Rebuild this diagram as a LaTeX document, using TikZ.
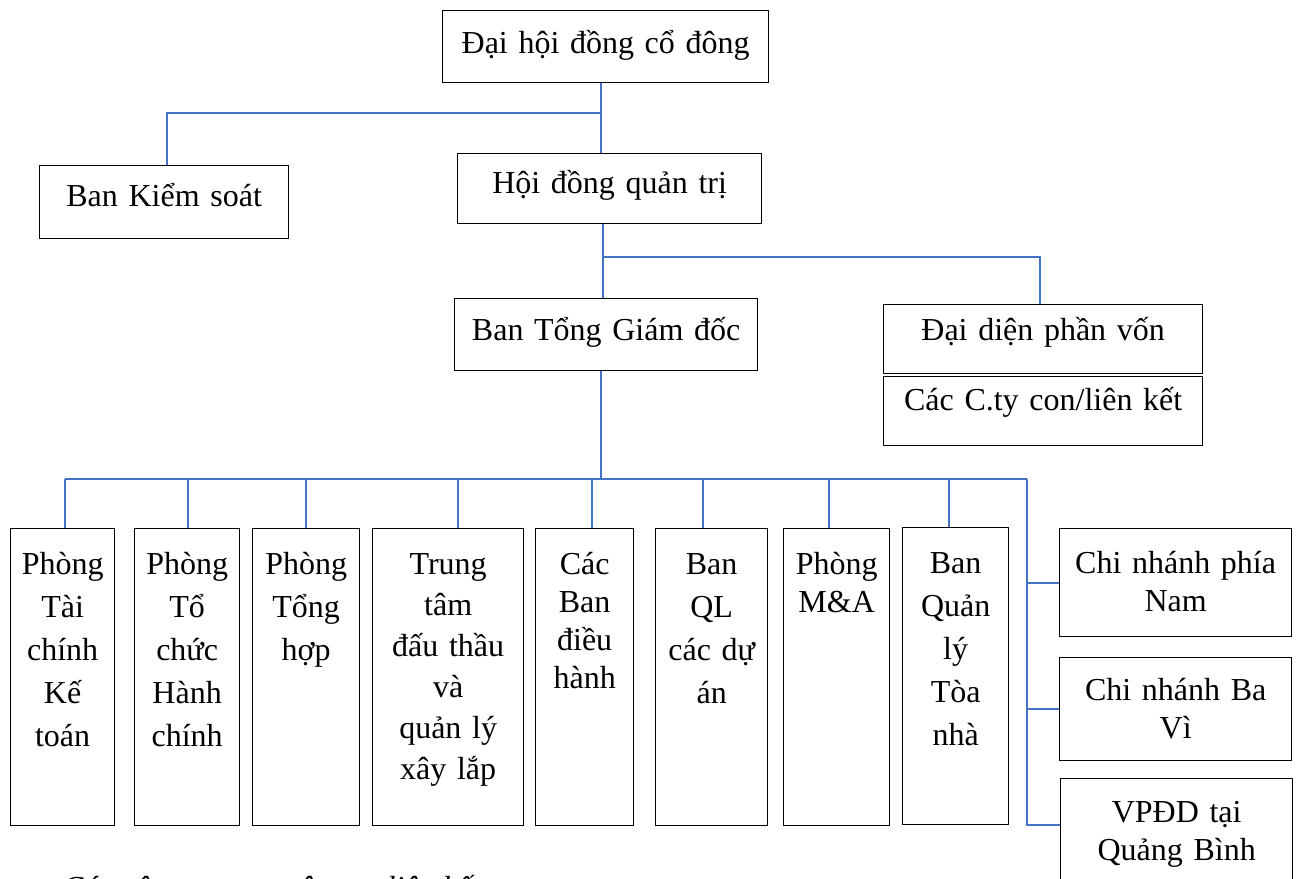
\documentclass[tikz,border=0pt]{standalone}
\usepackage{fontspec}
\setmainfont{Liberation Serif}
\usetikzlibrary{positioning,calc}
\definecolor{linkblue}{RGB}{68,114,196}
\tikzset{
  box/.style={draw, line width=1.3pt, anchor=north west, inner sep=0pt, align=center,
    font=\fontsize{32}{43}\selectfont},
  dept/.style={box, text height=46pt, text depth=251pt},
  tight/.style={font=\fontsize{32}{38}\selectfont},
  link/.style={draw=linkblue, line width=2pt}
}
\begin{document}
\begin{tikzpicture}[x=1pt, y=-1pt]
      \path[use as bounding box, fill=white] (0,0) rectangle (1298,878);

      \node[box, text width=326pt, text height=43pt, text depth=29pt] (dhdcd) at (442,10) {Đại hội đồng cổ đông};
      \node[box, text width=249pt, text height=41pt, text depth=32pt] (bks) at (39,165) {Ban Kiểm soát};
      \node[box, text width=304pt, text height=40pt, text depth=30pt] (hdqt) at (457,153) {Hội đồng quản trị};
      \node[box, text width=303pt, text height=42pt, text depth=30pt] (btgd) at (454,298) {Ban Tổng Giám đốc};
      \node[box, text width=319pt, text height=36pt, text depth=33pt] (ddpv) at (883,304) {Đại diện phần vốn};
      \node[box, text width=319pt, text height=34pt, text depth=35pt] (cty) at (883,376) {Các C.ty con/liên kết};

      \node[dept, text width=104pt] (ptckt) at (10,528) {Phòng\\Tài\\chính\\Kế\\toán};
      \node[dept, text width=105pt] (ptchc) at (134,528) {Phòng\\Tổ\\chức\\Hành\\chính};
      \node[dept, text width=107pt] (pth) at (252,528) {Phòng\\Tổng\\hợp};
      \node[dept, text width=151pt, font=\fontsize{32}{41}\selectfont] (ttdt) at (372,528) {Trung\\tâm\\đấu thầu\\và\\quản lý\\xây lắp};
      \node[dept, tight, text width=98pt] (cbdh) at (535,528) {Các\\Ban\\điều\\hành};
      \node[dept, text width=112pt] (bqlda) at (655,528) {Ban\\QL\\các dự\\án};
      \node[dept, tight, text width=106pt] (pma) at (783,528) {Phòng\\M\&A};
      \node[dept, text width=106pt] (bqltn) at (902,527) {Ban\\Quản\\lý\\Tòa\\nhà};

      \node[box, tight, text width=232pt, text height=45pt, text depth=63pt] (cnpn) at (1059,528) {Chi nhánh phía\\Nam};
      \node[box, tight, text width=232pt, text height=43pt, text depth=60pt] (cnbv) at (1059,657) {Chi nhánh Ba\\Vì};
      \node[box, tight, text width=232pt, text height=44pt, text depth=62pt] (vpdd) at (1060,778) {VPĐD tại\\Quảng Bình};

      \node[anchor=base west, inner sep=0pt, font=\fontsize{32}{43}\selectfont\itshape] (ghichu) at (62,898) {Các công ty con, công ty liên kết};

      \coordinate (j1) at ($([xshift=-5pt]dhdcd.south)!0.42!([xshift=-5pt]dhdcd.south |- hdqt.north)$);
      \coordinate (j2) at ($([xshift=-7pt]hdqt.south)!0.45!([xshift=-7pt]hdqt.south |- btgd.north)$);
      \coordinate[below=108pt of {[xshift=-5pt]btgd.south}] (bus);
      \coordinate (trunk) at ($(bus -| cnpn.west)+(-32,0)$);

      \draw[link] ([xshift=-5pt]dhdcd.south) -- ([xshift=-5pt]dhdcd.south |- hdqt.north);
      \draw[link] (j1) -| ([xshift=3pt]bks.north);
      \draw[link] ([xshift=-7pt]hdqt.south) -- ([xshift=-7pt]hdqt.south |- btgd.north);
      \draw[link] (j2) -| ([xshift=-3pt]ddpv.north);
      \draw[link] ([xshift=-5pt]btgd.south) -- (bus);
      \draw[link] ([xshift=2pt]bus -| ptckt.north) -- (trunk);
      \foreach \n/\dx in {ptckt/2,ptchc/1,pth/0,ttdt/10,cbdh/7,bqlda/-9,pma/-8,bqltn/-7}
        \draw[link] ([xshift=\dx pt]bus -| \n.north) -- ([xshift=\dx pt]\n.north);
      \draw[link] (trunk) |- (cnpn.west);
      \draw[link] (trunk) |- (cnbv.west);
      \draw[link] (trunk) |- ([yshift=7pt]vpdd.west);
    \end{tikzpicture}
\end{document}
